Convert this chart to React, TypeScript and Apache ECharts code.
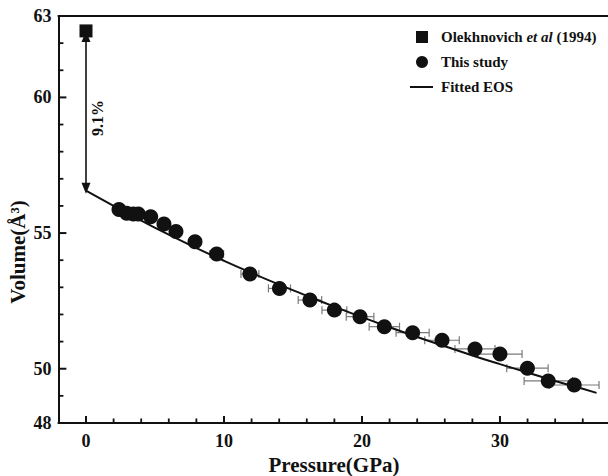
import React, { useEffect, useRef } from "react";
import * as echarts from "echarts";

// Pressure (GPa) and volume (Å^3)
const studyP = [2.39, 2.95, 3.43, 3.79, 4.69, 5.65, 6.52, 7.9, 9.47, 11.88, 14.02, 16.23, 18.0, 19.86, 21.62, 23.67, 25.8, 28.19, 30.0, 31.99, 33.5, 35.38];
const studyV = [55.87, 55.73, 55.7, 55.7, 55.6, 55.33, 55.06, 54.68, 54.23, 53.49, 52.96, 52.53, 52.16, 51.92, 51.55, 51.33, 51.05, 50.73, 50.54, 50.02, 49.55, 49.4];
const studyPErr = [0.2, 0.2, 0.2, 0.2, 0.3, 0.3, 0.3, 0.4, 0.5, 0.65, 0.8, 0.85, 0.9, 1.0, 1.1, 1.2, 1.25, 1.45, 1.6, 1.5, 1.75, 1.8];

const olekP = [0];
const olekV = [62.45];

const eosP = [0, 2, 4, 6, 8, 10, 12, 14, 16, 18, 20, 22, 24, 26, 28, 30, 32, 34, 36, 37];
const eosV = [56.56, 56.0, 55.46, 54.94, 54.45, 53.98, 53.53, 53.1, 52.69, 52.29, 51.9, 51.53, 51.17, 50.83, 50.49, 50.17, 49.86, 49.55, 49.26, 49.11];

const arrowTop = 62.24;
const arrowBottom = 56.65;
const arrowLabel = "9.1%";

const xMajor = [0, 10, 20, 30];
const xMinor = [2, 4, 6, 8, 12, 14, 16, 18, 22, 24, 26, 28, 32, 34, 36];
const yMajor = [48, 50, 55, 60, 63];
const yMinor = [49, 51, 52, 53, 54, 56, 57, 58, 59, 61, 62];

const legendNames = ["Olekhnovich", "et al", "(1994)", "This study", "Fitted EOS"];

const SERIF = "'Liberation Serif', 'Times New Roman', serif";

export default function App() {
  const ref = useRef<HTMLDivElement>(null);
  useEffect(() => {
    if (!ref.current) return;
    const chart = echarts.init(ref.current, null, { renderer: "svg" });
    const xMin = -2;
    const xMax = 37.8;
    const yMin = 48;
    const yMax = 63;
    const labelStyle = { fontFamily: SERIF, fontWeight: "bold" as const, fontSize: 18, color: "#111" };

    const tickX = [...xMajor.map((v) => [v, 7, 2]), ...xMinor.map((v) => [v, 4.5, 1.8])];
    const tickY = [
      ...yMajor.filter((v) => v !== yMin && v !== yMax).map((v) => [v, 8, 2]),
      ...yMinor.map((v) => [v, 5, 1.8]),
    ];

    const option: any = {
      animation: false,
      backgroundColor: "#fff",
      grid: { left: 58.4, right: 0.4, top: 16, bottom: 53 },
      xAxis: [
        {
          type: "value", min: xMin, max: xMax, position: "bottom",
          axisLine: { show: true, onZero: false, lineStyle: { color: "#111", width: 2 } },
          axisTick: { show: false },
          axisLabel: { show: true, customValues: xMajor, margin: 9, ...labelStyle },
          splitLine: { show: false },
        },
        {
          type: "value", min: xMin, max: xMax, position: "top",
          axisLine: { show: true, onZero: false, lineStyle: { color: "#111", width: 2 } },
          axisTick: { show: false },
          axisLabel: { show: false },
          splitLine: { show: false },
        },
      ],
      yAxis: [
        {
          type: "value", min: yMin, max: yMax, position: "left",
          axisLine: { show: true, onZero: false, lineStyle: { color: "#111", width: 2 } },
          axisTick: { show: false },
          axisLabel: { show: true, customValues: yMajor, margin: 7, ...labelStyle },
          splitLine: { show: false },
        },
      ],
      series: [
        {
          name: "xTicks",
          type: "custom",
          data: tickX.map((t) => [t[0], yMin, t[1], t[2]]),
          encode: { x: 0, y: 1 },
          clip: false,
          silent: true,
          z: 5,
          renderItem: (params: any, api: any) => {
            const p = api.coord([api.value(0), api.value(1)]);
            const len = api.value(2);
            return {
              type: "line",
              shape: { x1: p[0], y1: p[1], x2: p[0], y2: p[1] - len },
              style: { stroke: "#111", lineWidth: api.value(3) },
            };
          },
        },
        {
          name: "yTicks",
          type: "custom",
          data: tickY.map((t) => [xMin, t[0], t[1], t[2]]),
          encode: { x: 0, y: 1 },
          clip: false,
          silent: true,
          z: 5,
          renderItem: (params: any, api: any) => {
            const p = api.coord([api.value(0), api.value(1)]);
            const len = api.value(2);
            return {
              type: "line",
              shape: { x1: p[0], y1: p[1], x2: p[0] + len, y2: p[1] },
              style: { stroke: "#111", lineWidth: api.value(3) },
            };
          },
        },
        {
          name: "Fitted EOS",
          type: "line",
          data: eosP.map((p, i) => [p, eosV[i]]),
          smooth: true,
          showSymbol: false,
          symbol: "none",
          lineStyle: { color: "#111", width: 2 },
          z: 3,
        },
        {
          name: "errors",
          type: "custom",
          data: studyP.map((p, i) => [p, studyV[i], studyPErr[i]]),
          encode: { x: 0, y: 1 },
          z: 2,
          renderItem: (params: any, api: any) => {
            const x = api.value(0);
            const y = api.value(1);
            const e = api.value(2);
            const l = api.coord([x - e, y]);
            const r = api.coord([x + e, y]);
            const st = { stroke: "#7a7a7a", lineWidth: 1.2 };
            const h = 4;
            return {
              type: "group",
              children: [
                { type: "line", shape: { x1: l[0], y1: l[1], x2: r[0], y2: r[1] }, style: st },
                { type: "line", shape: { x1: l[0], y1: l[1] - h, x2: l[0], y2: l[1] + h }, style: st },
                { type: "line", shape: { x1: r[0], y1: r[1] - h, x2: r[0], y2: r[1] + h }, style: st },
              ],
            };
          },
        },
        {
          name: "This study",
          type: "scatter",
          data: studyP.map((p, i) => [p, studyV[i]]),
          symbol: "circle",
          symbolSize: 15,
          itemStyle: { color: "#111", opacity: 1 },
          z: 4,
        },
        {
          name: "Olekhnovich et al (1994)",
          type: "scatter",
          data: olekP.map((p, i) => [p, olekV[i]]),
          symbol: "rect",
          symbolSize: 13,
          itemStyle: { color: "#111", opacity: 1 },
          z: 4,
          markLine: {
            silent: true,
            symbol: ["triangle", "triangle"],
            symbolSize: [9, 11],
            label: { show: false },
            lineStyle: { color: "#111", width: 1.6, type: "solid" },
            data: [[{ coord: [0, arrowTop] }, { coord: [0, arrowBottom] }]],
          },
        },
      ],
      graphic: [
        { type: "rect", shape: { x: 416, y: 31, width: 12, height: 12 }, style: { fill: "#111" } },
        {
          type: "text", x: 441, y: 37,
          style: {
            text: `{b|${legendNames[0]} }{i|${legendNames[1]}}{b| ${legendNames[2]}}`,
            verticalAlign: "middle", align: "left",
            rich: {
              b: { fontFamily: SERIF, fontWeight: "bold", fontSize: 15, fill: "#111" },
              i: { fontFamily: SERIF, fontWeight: "bold", fontStyle: "italic", fontSize: 15, fill: "#111" },
            },
          },
        },
        { type: "circle", shape: { cx: 422, cy: 62, r: 6 }, style: { fill: "#111" } },
        {
          type: "text", x: 441, y: 62,
          style: { text: legendNames[3], font: `bold 15px ${SERIF}`, fill: "#111", verticalAlign: "middle", align: "left" },
        },
        { type: "line", shape: { x1: 410, y1: 87, x2: 433, y2: 87 }, style: { stroke: "#111", lineWidth: 2 } },
        {
          type: "text", x: 441, y: 87,
          style: { text: legendNames[4], font: `bold 15px ${SERIF}`, fill: "#111", verticalAlign: "middle", align: "left" },
        },
        {
          type: "text", x: 97, y: 118, rotation: Math.PI / 2,
          style: { text: arrowLabel, font: `bold 16px ${SERIF}`, fill: "#111", align: "center", verticalAlign: "middle" },
        },
        {
          type: "text", x: 334, y: 475,
          style: { text: "Pressure(GPa)", font: `bold 21px ${SERIF}`, fill: "#111", align: "center", verticalAlign: "bottom" },
        },
        {
          type: "text", x: 18, y: 252, rotation: Math.PI / 2,
          style: { text: "Volume(Å³)", font: `bold 21px ${SERIF}`, fill: "#111", align: "center", verticalAlign: "middle" },
        },
      ],
    };
    chart.setOption(option);
    return () => chart.dispose();
  }, []);
  return <div ref={ref} style={{ width: 608, height: 476, position: "absolute", left: 0, top: 0 }} />;
}
